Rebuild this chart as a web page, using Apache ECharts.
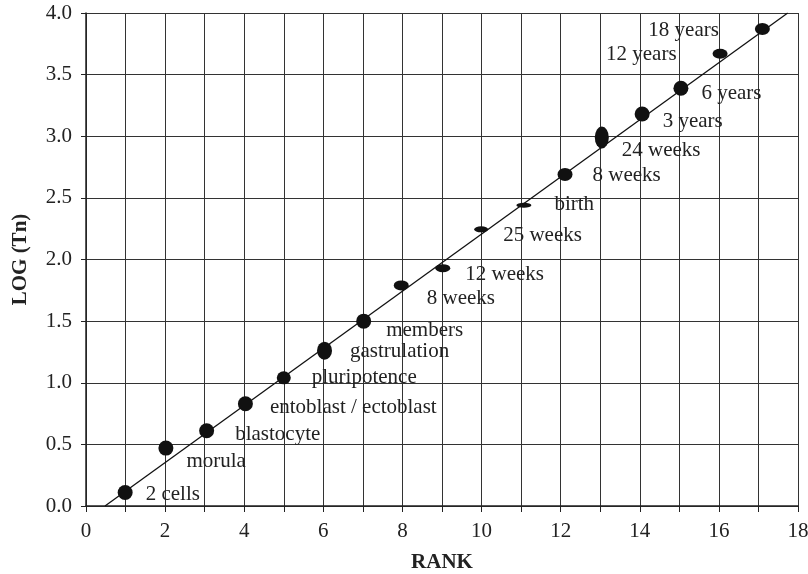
<!DOCTYPE html>
<html>
<head>
<meta charset="utf-8">
<script src="https://cdn.jsdelivr.net/npm/echarts@6/dist/echarts.min.js"></script>
<style>
  html, body { margin: 0; padding: 0; background: #fff; }
  #main { width: 808px; height: 574px; }
</style>
</head>
<body>
<div id="main"></div>
<script>
// values
var stages = ['2 cells', 'morula', 'blastocyte', 'entoblast / ectoblast', 'pluripotence',
  'gastrulation', 'members', '8 weeks', '12 weeks', '25 weeks', 'birth', '8 weeks',
  '24 weeks', '3 years', '6 years', '12 years', '18 years'];
var rank = [0.99, 2.02, 3.05, 4.03, 5.0, 6.03, 7.02, 7.97, 9.02, 9.99, 11.07, 12.11,
  13.04, 14.06, 15.04, 16.03, 17.1];
var logTn = [0.11, 0.47, 0.61, 0.83, 1.04, 1.26, 1.50, 1.79, 1.93, 2.245, 2.44, 2.69,
  2.99, 3.18, 3.39, 3.67, 3.87];
// trend line end points
var trendRank = [0.48, 17.74];
var trendLog = [0, 4.0];

// marker shapes (w, h) and label placement
var markSize = [[15, 15], [15, 15], [15, 15], [15, 15], [14, 13], [15, 18], [15, 15],
  [15, 10], [15, 8], [14, 6], [15, 5], [15, 13], [14, 22], [15, 15], [15, 15], [15, 10], [15, 12]];
var labelOff = [[13, 2], [13, 13], [21, 4], [17, 4], [21, 0], [18, 1], [15, 9], [18, 13],
  [15, 6], [15, 6], [23, -1], [20, 1], [13, 13], [13, 7], [13, 5], [-36, 1], [-36, 1]];

var font = 'Liberation Serif, Times New Roman, serif';
var myChart = echarts.init(document.getElementById('main'));

var points = rank.map(function (r, i) {
  var left = labelOff[i][0] < 0;
  return {
    value: [r, logTn[i]],
    symbolSize: markSize[i],
    label: {
      show: true,
      formatter: stages[i],
      position: left ? 'left' : 'right',
      distance: 0,
      offset: labelOff[i],
      color: '#222',
      fontFamily: font,
      fontSize: 21
    }
  };
});

var option = {
  animation: false,
  grid: { left: 86, right: 10, top: 13, bottom: 68, outerBoundsMode: 'none' },
  xAxis: {
    type: 'value',
    min: 0,
    max: 18,
    interval: 1,
    name: 'RANK',
    nameLocation: 'middle',
    nameGap: 46,
    nameTextStyle: { fontFamily: font, fontSize: 21, fontWeight: 'bold', color: '#222' },
    axisLine: { lineStyle: { color: '#222', width: 1.5 } },
    axisTick: { show: true, length: 6, lineStyle: { color: '#222' } },
    axisLabel: {
      margin: 15,
      color: '#222',
      fontFamily: font,
      fontSize: 21,
      formatter: function (v) { return v % 2 === 0 ? String(v) : ''; }
    },
    splitLine: { show: true, lineStyle: { color: '#333', width: 1 } }
  },
  yAxis: {
    type: 'value',
    min: 0,
    max: 4,
    interval: 0.5,
    name: 'LOG (Tn)',
    nameLocation: 'middle',
    nameGap: 55,
    nameTextStyle: { fontFamily: font, fontSize: 21, fontWeight: 'bold', color: '#222' },
    axisLine: { show: true, lineStyle: { color: '#222', width: 1.5 } },
    axisTick: { show: true, length: 5, lineStyle: { color: '#222' } },
    axisLabel: {
      margin: 14,
      color: '#222',
      fontFamily: font,
      fontSize: 21,
      formatter: function (v) { return v.toFixed(1); }
    },
    splitLine: { show: true, lineStyle: { color: '#333', width: 1 } }
  },
  series: [
    {
      type: 'line',
      data: trendRank.map(function (r, i) { return [r, trendLog[i]]; }),
      showSymbol: false,
      symbol: 'none',
      lineStyle: { color: '#111', width: 1.3 },
      silent: true,
      z: 3
    },
    {
      type: 'scatter',
      data: points,
      symbol: 'circle',
      itemStyle: { color: '#111', opacity: 1 },
      z: 4
    }
  ]
};

myChart.setOption(option);
</script>
</body>
</html>
